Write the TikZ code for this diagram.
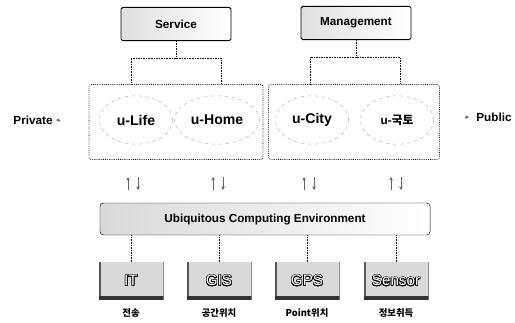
\documentclass[tikz,border=0pt]{standalone}
\usepackage{fontspec}
\setmainfont{Liberation Sans}
\newfontfamily\kofont{Noto Sans CJK KR}
\usepackage{contour}
\contourlength{0.5pt}
\usetikzlibrary{positioning, shapes.geometric, arrows.meta}

\begin{document}
\begin{tikzpicture}[
            x=0.03cm, y=-0.03cm,
            topbox/.style={draw, thick, rounded corners=1.5pt, minimum width=3.3cm, minimum height=1cm, left color=gray!25, right color=white, font=\bfseries},
            group/.style={draw=black, line width=0.6pt, densely dotted, rounded corners=2pt, minimum height=2.25cm},
            area/.style={ellipse, draw=gray!60, dashed, minimum width=2.2cm, minimum height=1.45cm, font=\bfseries\large},
            uce/.style={draw, rounded corners=3pt, minimum width=9.9cm, minimum height=0.96cm, left color=gray!30, right color=white, font=\bfseries},
            tech/.style={fill=gray!30, minimum width=1.95cm, minimum height=1.14cm, font=\fontsize{13}{15}\selectfont,
                path picture={
                    \fill[black!65] (path picture bounding box.south west) rectangle ([xshift=2pt]path picture bounding box.north west);
                    \fill[black!80] (path picture bounding box.south west) rectangle ([yshift=3pt]path picture bounding box.south east);
                    \draw[black!60] (path picture bounding box.south east) -- (path picture bounding box.north east);
                }},
            techlabel/.style={font=\kofont\bfseries\fontsize{8}{10}\selectfont},
            link/.style={densely dotted},
            swap/.style={black!60, thin, -{Stealth[length=3pt, width=3pt]}},
        ]
            \useasboundingbox (0,0) rectangle (515,322);

            % top layer
            \node[topbox] (service) at (176,24) {Service};
            \node[topbox] (mgmt) at (356,23) {Management};

            % groups
            \node[group, minimum width=5.22cm] (lgroup) at (176,122) {};
            \node[group, minimum width=5.13cm] (rgroup) at (354,122) {};

            \node[area] (life) at (136,120) {u-Life};
            \node[area] (home) at (217,120) {u-Home};
            \node[area] (city) at (312,120) {u-City};
            \node[area] (land) at (397,120) {\fontsize{10}{12}\selectfont u-{\kofont\bfseries 국토}};

            \node[font=\bfseries] (private) at (33,120) {Private};
            \node[font=\bfseries] (public) at (494,117) {Public};
            \coordinate (privtip) at (56,120);
            \coordinate (pubtip) at (469,117);
            \draw[swap] ([xshift=3.5pt]privtip) -- (privtip);
            \draw[swap] ([xshift=-3.5pt]pubtip) -- (pubtip);

            % brackets
            \coordinate (svl) at (131,58);
            \coordinate (svr) at (221,58);
            \coordinate (mgl) at (310,57);
            \coordinate (mgr) at (400,57);
            \draw[link] (service.south) -- (service.south |- svl);
            \draw[link] (svl |- lgroup.north) -- (svl) -- (svr) -- (svr |- lgroup.north);
            \draw[link] (mgmt.south) -- (mgmt.south |- mgl);
            \draw[link] (mgl |- rgroup.north) -- (mgl) -- (mgr) -- (mgr |- rgroup.north);

            % exchange marks
            \foreach \x in {133, 218, 309, 396} {
                \draw[swap] ({\x-5},190) -- ({\x-5},177);
                \draw[swap] ({\x+5},177) -- ({\x+5},190);
            }

            % environment
            \node[uce] (uce) at (265,219) {Ubiquitous Computing Environment};

            \node[tech] (it) at (131,281) {{\color{white}\contour{black}{IT}}};
            \node[tech] (gis) at (219,281) {{\color{white}\contour{black}{GIS}}};
            \node[tech] (gps) at (307,281) {{\color{white}\contour{black}{GPS}}};
            \node[tech] (sensor) at (396,281) {{\color{white}\contour{black}{Sensor}}};

            \draw[link] (it.north |- uce.south) -- (it.north);
            \draw[link] (gis.north |- uce.south) -- (gis.north);
            \draw[link] (gps.north |- uce.south) -- (gps.north);
            \draw[link] (sensor.north |- uce.south) -- (sensor.north);

            \node[techlabel, below=0.12cm of it] (itlabel) {전송};
            \node[techlabel, below=0.12cm of gis] (gislabel) {공간위치};
            \node[techlabel, below=0.12cm of gps] (gpslabel) {Point위치};
            \node[techlabel, below=0.12cm of sensor] (sensorlabel) {정보취득};
        \end{tikzpicture}
\end{document}
